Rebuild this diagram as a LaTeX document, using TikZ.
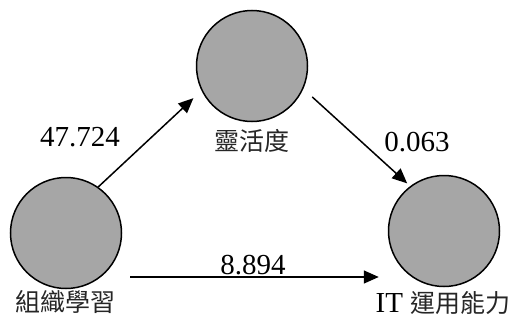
\documentclass[tikz,border=0pt]{standalone}
\usepackage{fontspec}
\setmainfont{Liberation Serif}
\newfontfamily\latinserif{Liberation Serif}
\newfontfamily\cjk{Noto Sans CJK TC}
\usetikzlibrary{arrows.meta}
\definecolor{circfill}{RGB}{166,166,166}
\tikzset{
  var/.style={circle, draw=black, line width=1.5pt, fill=circfill, minimum size=111pt, inner sep=0pt},
  num/.style={inner sep=0pt, font=\latinserif\fontsize{29}{32}\selectfont},
  cjklabel/.style={inner sep=0pt, font=\cjk\fontsize{25}{28}\selectfont, text=black!85},
  arr/.style={line width=1.5pt, -{Triangle[length=15pt,width=13pt]}}
}
\begin{document}
\begin{tikzpicture}[x=1pt,y=-1pt]
\useasboundingbox (0,0) rectangle (519,324);
\node[var] (c1) at (66,233) {};
\node[var] (c2) at (252,66) {};
\node[var] (c3) at (444,231) {};
\node[cjklabel] (l1) at (65,302) {組織學習};
\node[cjklabel] (l2) at (252,141) {靈活度};
\node[inner sep=0pt] (l3) at (443,303) {{\latinserif\fontsize{29}{32}\selectfont IT\ }{\cjk\fontsize{25}{28}\selectfont\color{black!85}運用能力}};
\draw[arr, shorten >=11pt] (c1.55) -- (c2.206);
\draw[arr, shorten <=12pt, shorten >=4pt] (c2.-24) -- (c3.127);
\draw[arr] ([shift={(8pt,-44pt)}]c1.east) -- ([shift={(-9pt,-46pt)}]c3.west);
\node[num] (n1) at (80,137) {47.724};
\node[num] (n2) at (417,142) {0.063};
\node[num] (n3) at (253,265) {8.894};
\end{tikzpicture}
\end{document}
